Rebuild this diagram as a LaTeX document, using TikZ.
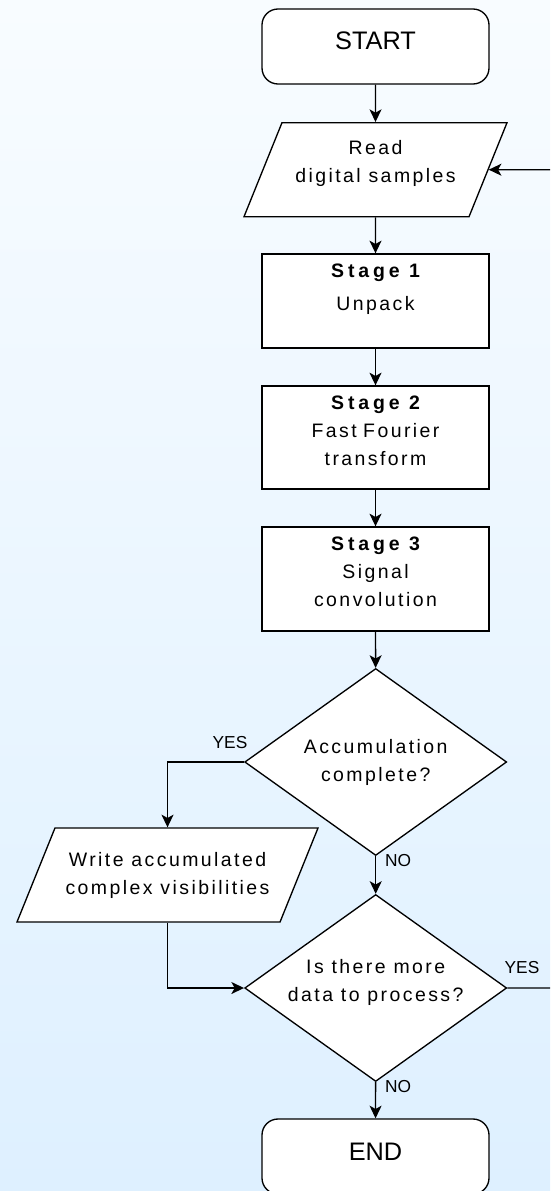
\documentclass[tikz,border=0pt]{standalone}
\usepackage{fontspec}
\setmainfont{Liberation Sans}
\newfontfamily\boxfont[LetterSpace=12.5]{Liberation Sans}
\newfontfamily\headfont[LetterSpace=20]{Liberation Sans Bold}
\usepackage{tikz}
\usetikzlibrary{shapes,arrows.meta,positioning,calc}
\usepackage{xcolor}
\definecolor{bgtop}{RGB}{248,252,255}
\definecolor{bgbottom}{RGB}{222,240,255}
\newcommand{\boxtextfont}{\boxfont\fontsize{14.6}{21}\selectfont}
\newcommand{\stagehead}[1]{{\headfont\spaceskip=7pt\relax #1}}

\begin{document}
\begin{tikzpicture}[x=0.75pt,y=-0.75pt,line width=1pt,
                flow/.style={-{Stealth[length=9.5pt,width=9pt,inset=2.5pt]}},
                term/.style={draw,fill=white,rounded corners=12pt,minimum width=170.25pt,inner sep=0pt,
                        text height=30.75pt,text depth=25.5pt,font=\fontsize{19}{23}\selectfont},
                stagebox/.style={draw,fill=white,text width=170.25pt,align=center,inner sep=0pt,
                        text height=17.25pt,text depth=#1,font=\boxtextfont},
                iobox/.style={draw,fill=white,trapezium,trapezium left angle=68,trapezium right angle=112,
                        trapezium stretches body,minimum width=#1,align=center,inner sep=0pt,font=\boxtextfont},
                test/.style={draw,fill=white,diamond,aspect=1.4,minimum width=196.5pt,minimum height=140.25pt,
                        align=center,inner sep=0pt,text height=31.5pt,font=\boxtextfont},
                answer/.style={inner sep=0pt,font=\fontsize{13}{15}\selectfont}]
                % background
                \useasboundingbox (0,0) rectangle (550,1191);
                \shade[top color=bgtop,bottom color=bgbottom] (0,0) rectangle (550,1191);
                \clip (0,0) rectangle (550,1191);

                % main column
                \node[term] (start) at (375.5,46.5) {START};
                \node[iobox=197.25pt,text height=45.2pt,text depth=25.3pt] (read) at (375.5,169.7) {Read\\digital samples};
                \node[stagebox=53.25pt] (unpack) at (375.5,301) {\stagehead{Stage 1}\\[4pt]Unpack};
                \node[stagebox=60pt] (fft) at (375.5,437.5) {\stagehead{Stage 2}\\Fast Fourier\\transform};
                \node[stagebox=60.75pt] (conv) at (375.5,579) {\stagehead{Stage 3}\\Signal\\convolution};
                \node[test,text depth=3pt] (acc) at (375.7,762) {Accumulation\\complete?};
                \node[iobox=225.75pt,text height=49.5pt,text depth=21pt] (write) at (167.5,875) {Write accumulated\\complex visibilities};
                \node[test,text depth=11.5pt] (more) at (375.7,988) {Is there more\\data to process?};
                \node[term] (finish) at (375.5,1156.5) {END};

                % answers
                \node[answer] (yesacc) at (230,743) {YES};
                \node[answer] (noacc) at (398,861) {NO};
                \node[answer] (yesmore) at (522,968) {YES};
                \node[answer] (nomore) at (398,1087) {NO};
                \coordinate (loopback) at (565,169.7);

                \draw[flow] (start) -- (read);
                \draw[flow] (read) -- (unpack);
                \draw[flow] (unpack) -- (fft);
                \draw[flow] (fft) -- (conv);
                \draw[flow] (conv) -- (acc);
                \draw[flow] (acc.west) -| (write.north);
                \draw[flow] (acc) -- (more);
                \draw[flow] (write.south) |- (more.west);
                \draw[flow] (more) -- (finish);
                \draw[flow] (more.east) -| (loopback) -- (read.east);
            \end{tikzpicture}
\end{document}
